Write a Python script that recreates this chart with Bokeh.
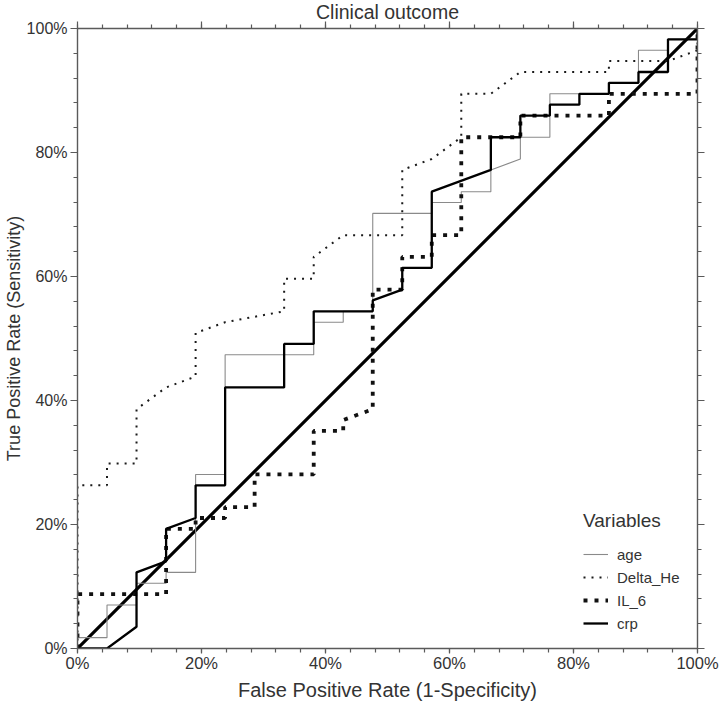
from bokeh.plotting import figure
from bokeh.models import Range1d, LinearAxis, FixedTicker, CustomJSTickFormatter
from bokeh.embed import file_html
from bokeh.resources import INLINE

FONT = "Liberation Sans"
TXT = "#333333"
AX = "#5a5a5a"

# ROC vertices, percent
age_fpr = [0, 0, 4.76, 4.76, 9.52, 9.52, 14.29, 14.29, 19.05, 19.05, 23.81, 23.81, 38.10, 38.10,
           42.86, 42.86, 47.62, 47.62, 57.14, 57.14, 61.90, 61.90, 66.67, 66.67, 71.43, 71.43,
           76.19, 76.19, 85.71, 85.71, 90.48, 90.48, 95.24, 95.24, 100, 100]
age_tpr = [0, 1.75, 1.75, 7.02, 7.02, 10.53, 10.53, 12.28, 12.28, 28.07, 28.07, 47.37, 47.37, 52.63,
           52.63, 54.39, 54.39, 70.18, 70.18, 71.93, 71.93, 73.68, 73.68, 77.19, 78.95, 82.46,
           82.46, 89.47, 89.47, 91.23, 91.23, 96.49, 96.49, 98.25, 98.25, 100]

delta_fpr = [0, 0, 4.76, 4.76, 9.52, 9.52, 14.29, 19.05, 19.05, 23.81, 33.33, 33.33, 38.10, 38.10,
             42.86, 52.38, 52.38, 57.14, 61.90, 61.90, 66.67, 71.43, 85.71, 85.71, 95.24, 100, 100]
delta_tpr = [0, 26.32, 26.32, 29.82, 29.82, 38.60, 42.11, 43.86, 50.88, 52.63, 54.39, 59.65, 59.65, 63.16,
             66.67, 66.67, 77.19, 78.95, 82.46, 89.47, 89.47, 92.98, 92.98, 94.74, 94.74, 96.49, 100]

il6_fpr = [0, 0, 14.29, 14.29, 19.05, 19.05, 23.81, 23.81, 28.57, 28.57, 38.10, 38.10, 42.86, 42.86,
           47.62, 47.62, 52.38, 52.38, 57.14, 57.14, 61.90, 61.90, 71.43, 71.43, 85.71, 85.71, 100, 100]
il6_tpr = [0, 8.77, 8.77, 19.30, 19.30, 21.05, 21.05, 22.81, 22.81, 28.07, 28.07, 35.09, 35.09, 36.84,
           38.60, 57.89, 57.89, 63.16, 63.16, 66.67, 66.67, 82.46, 82.46, 85.96, 85.96, 89.47, 89.47, 100]

crp_fpr = [0, 4.76, 9.52, 9.52, 14.29, 14.29, 19.05, 19.05, 23.81, 23.81, 33.33, 33.33, 38.10, 38.10,
           47.62, 47.62, 52.38, 52.38, 57.14, 57.14, 66.67, 66.67, 71.43, 71.43, 76.19, 76.19,
           80.95, 80.95, 85.71, 85.71, 90.48, 90.48, 95.24, 95.24, 100, 100]
crp_tpr = [0, 0, 3.51, 12.28, 14.04, 19.30, 21.05, 26.32, 26.32, 42.11, 42.11, 49.12, 49.12, 54.39,
           54.39, 56.14, 57.89, 61.40, 61.40, 73.68, 77.19, 82.46, 82.46, 85.96, 85.96, 87.72,
           87.72, 89.47, 89.47, 91.23, 91.23, 92.98, 92.98, 98.25, 98.25, 100]

ref_x = [0, 100]
ref_y = [0, 100]

major_ticks = [0, 20, 40, 60, 80, 100]
minor_ticks = list(range(0, 101, 4))
tick_labels = ["0%", "20%", "40%", "60%", "80%", "100%"]

title_text = "Clinical outcome"
x_label = "False Positive Rate (1-Specificity)"
y_label = "True Positive Rate (Sensitivity)"
legend_title = "Variables"

p = figure(width=720, height=714, x_range=Range1d(0, 100), y_range=Range1d(0, 100),
           output_backend="svg", toolbar_location=None, title=title_text,
           min_border_left=77, min_border_right=23, min_border_top=28, min_border_bottom=66)
p.xgrid.visible = False
p.ygrid.visible = False
p.outline_line_color = None
p.background_fill_color = "white"
p.border_fill_color = "white"

p.title.align = "center"
p.title.text_font = FONT
p.title.text_font_size = "19.5px"
p.title.text_font_style = "normal"
p.title.text_color = TXT
p.title.standoff = -3
p.title.offset = 0

ticker = FixedTicker(ticks=major_ticks, minor_ticks=minor_ticks)
fmt = CustomJSTickFormatter(args=dict(lbls=tick_labels, mticks=major_ticks),
                            code="const i = mticks.indexOf(Math.round(tick)); return i >= 0 ? lbls[i] : '';")
blank = CustomJSTickFormatter(code="return '';")


def style_axis(ax, show_labels, tick_out=7, minor_out=4):
    ax.ticker = ticker
    ax.axis_line_color = AX
    ax.axis_line_width = 1.4
    ax.major_tick_line_color = AX
    ax.minor_tick_line_color = AX
    ax.major_tick_line_width = 1.2
    ax.minor_tick_line_width = 1.2
    ax.major_tick_in = 0
    ax.minor_tick_in = 0
    ax.major_tick_out = tick_out
    ax.minor_tick_out = minor_out
    if show_labels:
        ax.formatter = fmt
        ax.major_label_text_font = FONT
        ax.major_label_text_font_size = "16px"
        ax.major_label_text_color = TXT
        ax.major_label_standoff = 3
        ax.axis_label_text_font = FONT
        ax.axis_label_text_font_style = "normal"
        ax.axis_label_text_color = TXT
    else:
        ax.formatter = blank
        ax.major_label_text_font_size = "0px"
        ax.major_label_standoff = 0


xa = p.xaxis[0]
ya = p.yaxis[0]
style_axis(xa, True, tick_out=5, minor_out=4)
style_axis(ya, True)
xa.major_label_standoff = 0
xa.major_label_text_font_size = "16.5px"
xa.axis_label = x_label
ya.axis_label = y_label
xa.axis_label_text_font_size = "20px"
ya.axis_label_text_font_size = "18px"
xa.axis_label_standoff = 4
ya.axis_label_standoff = 0

top = LinearAxis()
right = LinearAxis()
style_axis(top, False, tick_out=7, minor_out=4)
style_axis(right, False)
p.add_layout(top, "above")
p.add_layout(right, "right")

p.line(ref_x, ref_y, line_color="black", line_width=3.2)
p.line(age_fpr, age_tpr, line_color="#8a8a8a", line_width=1.1, legend_label="age")
p.line(delta_fpr, delta_tpr, line_color="#1a1a1a", line_width=2, line_dash="2 6", legend_label="Delta_He")
p.line(il6_fpr, il6_tpr, line_color="#111111", line_width=3.8, line_dash="4 7", legend_label="IL_6")
p.line(crp_fpr, crp_tpr, line_color="black", line_width=2.3, legend_label="crp")

lg = p.legend[0]
lg.title = legend_title
lg.title_text_font = FONT
lg.title_text_font_size = "19px"
lg.title_text_font_style = "normal"
lg.title_text_color = TXT
lg.title_standoff = 12
lg.label_text_font = FONT
lg.label_text_font_size = "15px"
lg.label_text_color = TXT
lg.label_standoff = 9
lg.glyph_width = 25
lg.glyph_height = 20
lg.label_height = 20
lg.spacing = 3
lg.padding = 0
lg.margin = 0
lg.border_line_color = None
lg.background_fill_alpha = 0
lg.location = (506, 15)

open("out.html", "w").write(file_html(p, INLINE))
